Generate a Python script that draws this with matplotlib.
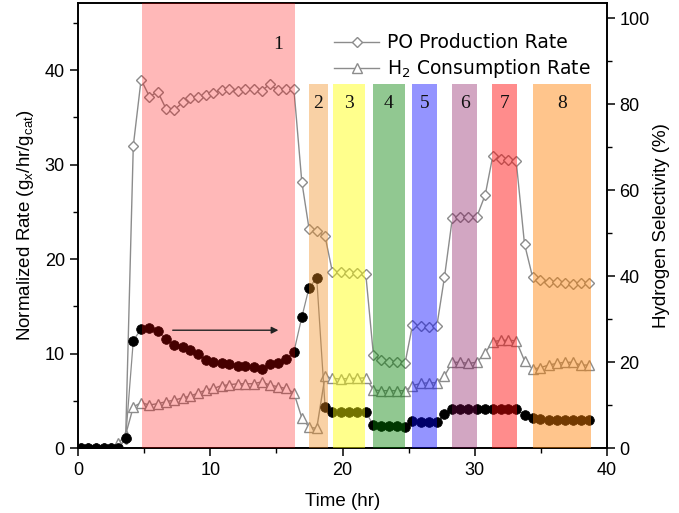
import matplotlib
matplotlib.use("Agg")
import matplotlib.pyplot as plt
from matplotlib.ticker import MultipleLocator

plt.rcParams['font.family'] = ['Liberation Sans', 'DejaVu Sans']
plt.rcParams['mathtext.fontset'] = 'custom'
plt.rcParams['mathtext.rm'] = 'Liberation Sans'

# ---------------- data ----------------
time_hr = [0.2, 0.78, 1.35, 1.93, 2.5, 3.05, 3.6, 4.18,
           4.77, 5.40, 6.03, 6.66, 7.29, 7.92, 8.48, 9.06, 9.66, 10.24,
           10.85, 11.45, 12.06, 12.66, 13.27, 13.88, 14.48, 15.09, 15.69, 16.32,
           16.92, 17.47, 18.05, 18.68, 19.24, 19.86, 20.5, 21.13, 21.76,
           22.34, 22.92, 23.55, 24.15, 24.73, 25.29, 25.92, 26.55, 27.13,
           27.71, 28.31, 28.9, 29.52, 30.16, 30.79, 31.36, 31.96, 32.55, 33.13,
           33.76, 34.37, 34.95, 35.58, 36.21, 36.79, 37.39, 38.02, 38.65]

po_rate = [0, 0, 0, 0, 0, 0, 1.0, 32.0,
           39.0, 37.2, 37.7, 35.9, 35.8, 36.6, 37.0, 37.2, 37.35, 37.6,
           37.9, 38.05, 37.8, 38.05, 38.0, 37.8, 38.5, 37.9, 38.0, 38.05,
           28.2, 23.2, 23.0, 22.4, 18.6, 18.6, 18.5, 18.5, 18.4,
           9.8, 9.3, 9.1, 9.1, 9.0, 13.0, 12.9, 12.8, 12.9,
           18.1, 24.4, 24.5, 24.5, 24.5, 26.8, 30.9, 30.6, 30.5, 30.4,
           21.6, 18.1, 17.8, 17.6, 17.6, 17.5, 17.4, 17.5, 17.5]

h2_rate = [0, 0, 0, 0, 0, 0.5, 1.4, 4.35,
           4.8, 4.55, 4.7, 4.9, 5.08, 5.3, 5.5, 5.8, 6.14, 6.3,
           6.6, 6.7, 6.8, 6.8, 6.8, 7.0, 6.67, 6.5, 6.3, 5.85,
           3.2, 2.2, 2.08, 7.6, 7.37, 7.3, 7.37, 7.37, 7.44,
           6.14, 6.07, 6.07, 6.07, 6.07, 6.6, 6.84, 6.9, 6.9,
           7.65, 9.07, 9.07, 8.96, 9.07, 10.1, 11.25, 11.4, 11.4, 11.35,
           9.24, 8.36, 8.5, 8.78, 8.96, 9.07, 9.07, 8.78, 8.78]

h2_selectivity = [0, 0, 0, 0, 0, 0, 2.25, 25.0,
                  27.7, 28.0, 27.2, 25.3, 24.0, 23.6, 22.8, 21.8, 20.5, 19.9,
                  19.7, 19.5, 19.1, 19.1, 18.9, 18.3, 19.5, 19.8, 20.6, 22.3,
                  30.4, 37.3, 39.5, 9.6, 8.45, 8.45, 8.45, 8.45, 8.3,
                  5.35, 5.1, 5.1, 5.1, 5.0, 6.35, 6.1, 6.1, 6.1,
                  7.8, 9.0, 9.0, 9.0, 9.0, 9.0, 9.0, 9.0, 9.0, 9.0,
                  7.7, 7.05, 6.7, 6.6, 6.6, 6.6, 6.6, 6.6, 6.6]

band_labels = ['1', '2', '3', '4', '5', '6', '7', '8']
band_start = [4.81, 17.47, 19.26, 22.29, 25.29, 28.26, 31.29, 34.37]
band_end = [16.41, 18.89, 21.71, 24.73, 27.18, 30.20, 33.18, 38.78]
band_colors = ['#FF0000', '#F08C1E', '#FFFF00', '#008000', '#0000FF', '#800050', '#FF0000', '#FF8000']
band_alpha = [0.28, 0.40, 0.45, 0.43, 0.42, 0.35, 0.45, 0.45]

x_ticks = [0, 10, 20, 30, 40]
left_ticks = [0, 10, 20, 30, 40]
right_ticks = [0, 20, 40, 60, 80, 100]

# ---------------- figure ----------------
fig = plt.figure(figsize=(6.79, 5.13), dpi=100)
ax = fig.add_axes([0.1149, 0.1267, 0.894 - 0.1149, 0.994 - 0.1267])
ax2 = ax.twinx()

gray = '#8c8c8c'
l1, = ax.plot(time_hr, po_rate, color=gray, lw=1.0, marker='D', ms=5.2,
              mfc='white', mec=gray, mew=1.0, label='PO Production Rate', zorder=3)
l2, = ax.plot(time_hr, h2_rate, color=gray, lw=1.0, marker='^', ms=7,
              mfc='white', mec=gray, mew=1.0, label=r'H$_\mathregular{2}$ Consumption Rate', zorder=3)
ax2.plot(time_hr, h2_selectivity, color=gray, lw=0.9, marker='o', ms=7,
         mfc='black', mec='black', mew=0.5, zorder=3)

ax.set_xlim(0, 40)
ax.set_ylim(0, 47.1)
ax2.set_ylim(0, 103.5)

band_top_frac = 0.818
for i, (lab, x0, x1, c, a) in enumerate(zip(band_labels, band_start, band_end, band_colors, band_alpha)):
    ymax = 1.0 if i == 0 else band_top_frac
    ax2.axvspan(x0, x1, ymin=0, ymax=ymax, color=c, alpha=a, lw=0, zorder=5)
    if i == 0:
        tx, ty = 15.1, 0.906
    else:
        tx, ty = (x0 + x1) / 2, 0.775
    ax2.text(tx, ty, lab, transform=ax2.get_xaxis_transform(), ha='center', va='center',
             family='Liberation Serif', fontsize=14, color='#111111', zorder=7)

ax2.annotate('', xy=(15.15, 27.4), xytext=(7.16, 27.4),
             arrowprops=dict(arrowstyle='-|>', color='#222222', lw=1.0,
                             mutation_scale=10, shrinkA=0, shrinkB=0), zorder=7)

# ticks
ax.set_xticks(x_ticks)
ax.set_yticks(left_ticks)
ax2.set_yticks(right_ticks)
ax.xaxis.set_minor_locator(MultipleLocator(5))
ax.yaxis.set_minor_locator(MultipleLocator(5))
ax2.yaxis.set_minor_locator(MultipleLocator(10))
for a_ in (ax, ax2):
    a_.tick_params(which='major', direction='out', length=6, width=1.1, labelsize=13)
    a_.tick_params(which='minor', direction='out', length=3.5, width=1.0)
    for s in a_.spines.values():
        s.set_linewidth(1.2)
ax.tick_params(axis='x', pad=4)
ax2.tick_params(axis='y', pad=3)

ax.set_xlabel('Time (hr)', fontsize=13.5, labelpad=10)
ax.set_ylabel(r'Normalized Rate (g$_\mathregular{x}$/hr/g$_\mathregular{cat}$)', fontsize=13.5, labelpad=6)
ax2.set_ylabel('Hydrogen Selectivity (%)', fontsize=13.5, labelpad=2)

leg = ax2.legend(handles=[l1, l2], loc='upper right', bbox_to_anchor=(0.993, 0.962),
                 frameon=False, prop={'family': 'DejaVu Sans', 'size': 13.5},
                 handlelength=2.4, handletextpad=0.4, labelspacing=0.28, borderaxespad=0.3)
leg.set_zorder(8)

fig.savefig('out.png', dpi=100)
